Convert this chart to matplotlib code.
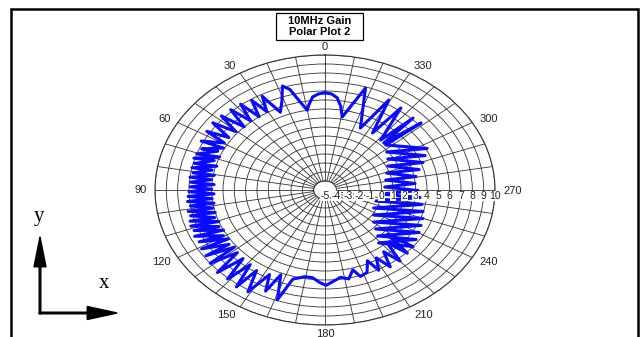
import numpy as np
import matplotlib.pyplot as plt
from matplotlib.patches import Rectangle

plt.rcParams['font.family'] = ['Liberation Sans', 'DejaVu Sans']

# gain trace: angle in degrees (0 at top, counter-clockwise), gain in dB
angle_deg = [0, 3, 6, 8.5, 10, 13, 15.5, 18, 21, 24.5, 28, 30.5, 33, 35.5, 38, 40.5, 43, 45.5, 48, 50.5, 53, 55.5,
             58, 59.5,
             63.5, 62.5, 67.2, 65.5, 70.5, 68.5, 73.0, 71.5, 75.6, 74.5, 78.1, 77.5, 80.7, 80.5, 83.2, 83.5,
             85.8, 86.5, 88.3, 89.5, 90.9, 92.5, 93.4, 95.5, 96.0, 98.5, 98.5, 101.5, 101.1, 104.5, 103.6, 107.5,
             106.2, 110.5, 108.7, 113.5, 111.3, 116.5, 114.1, 119.5, 117.4, 122.5, 121.0, 125.5, 124.8, 128.5,
             128.8, 132,
             134, 136.5, 139, 141.5, 144, 146, 149, 152.5, 155, 157.5, 161, 164, 166, 169.5, 173.5, 177.5, 180.5,
             183, 188, 192, 195.5, 198, 202, 205.5, 208, 211, 214, 217, 220, 223, 226, 228.5, 231,
             218.8, 235.6, 222.3, 240.4, 225.85, 245.1, 230.3, 249.9, 237.0, 254.6, 245.0, 259.4, 254.7, 264.3,
             264.8, 269.6, 273.6, 275.2, 281.7, 280.6, 289.1, 285.3, 295.7, 289.4, 301.9, 293.4, 307.8, 297.1,
             313.0, 311.3, 315.2, 315.8, 318.5, 323.7, 326.5, 330.6, 335.6, 342.5, 349.4,
             351.5, 354, 357, 360]
gain_db = [5.8, 5.7, 5.4, 4.6, 4.0, 5.2, 6.6, 7.15, 5.6, 4.5, 6.8, 5.1, 6.9, 5.0, 7.1, 5.1, 7.2, 5.0, 7.3, 5.2, 7.4, 5.3,
           7.3, 5.3,
           7.2, 5.1, 6.8, 5.4, 7.0, 5.0, 7.1, 5.3, 6.9, 4.9, 7.0, 5.2, 6.8, 4.9, 7.0, 5.1,
           6.9, 4.8, 6.9, 5.0, 7.0, 4.8, 7.1, 5.0, 7.2, 4.9, 7.0, 5.1, 7.3, 5.0, 7.2, 5.2,
           7.4, 5.0, 7.5, 5.2, 7.4, 5.0, 7.6, 5.3, 7.5, 5.1, 7.7, 5.4, 7.8, 5.2,
           8.0, 5.4,
           8.2, 5.5, 8.1, 5.6, 8.3, 5.8, 8.2, 5.6, 7.4, 5.2, 7.9, 5.3, 5.1, 4.8, 4.8, 5.3, 5.6,
           5.3, 4.8, 5.1, 4.2, 5.1, 4.9, 3.7, 5.1, 3.8, 5.3, 3.6, 5.3, 3.0, 5.1, 2.4, 5.0,
           2.55, 4.74, 1.90, 4.55, 1.22, 4.35, 0.57, 4.22, 0.11, 3.98, -0.27, 3.72, -0.37, 3.43,
           -0.07, 3.21, 0.28, 2.98, 0.47, 3.17, 0.76, 3.61, 1.14, 4.18, 1.52, 4.63, 1.89, 5.13,
           2.33, 6.29, 2.35, 6.15, 2.41, 6.31, 2.60, 6.47, 2.56, 6.88, 3.25,
           4.4, 5.3, 5.7, 5.8]

r_min, r_max = -5, 10
ring_values = list(range(-4, 11))
radial_labels = [str(v) for v in range(-5, 11)]
angle_ticks = list(range(0, 360, 10))
angle_labels = list(range(0, 360, 30))

W, H = 644, 337
fig = plt.figure(figsize=(W / 100, H / 100), dpi=100)

# elliptical polar plot
ax = fig.add_axes([155 / W, 12 / H, 340 / W, 270 / H], projection='polar')
ax.set_aspect('auto')
ax.set_theta_zero_location('N')
ax.set_theta_direction(1)
ax.set_ylim(r_min, r_max)
ax.set_yticks(ring_values)
ax.set_yticklabels([])
ax.set_xticks(np.deg2rad(angle_ticks))
ax.set_xticklabels([])
ax.tick_params(length=0)
ax.grid(True, color='#333333', lw=0.6)
ax.spines['polar'].set_color('#333333')
ax.spines['polar'].set_linewidth(0.8)

# white hole in the middle
t = np.linspace(0, 2 * np.pi, 200)
ax.fill_between(t, r_min, -4, color='white', lw=0, zorder=1.6)
ax.plot(t, np.full_like(t, -4), color='#333333', lw=0.6, zorder=1.7)

ax.plot(np.deg2rad(angle_deg), gain_db, color='#0a0aff', lw=2.2, zorder=2)

px = 0.72  # points per pixel
for a in angle_labels:
    th = np.deg2rad(a)
    s, c = np.sin(th), np.cos(th)
    ha = 'center' if abs(s) < 0.01 else ('right' if s > 0 else 'left')
    ax.annotate(str(a), xy=(th, r_max), xytext=(-s * 8 * px, (c * 8.5 - 0.5) * px),
                textcoords='offset points', ha=ha, va='center', fontsize=8,
                color='#222222', annotation_clip=False)

for v, lab in zip(range(-5, 11), radial_labels):
    ax.annotate(lab, xy=(np.deg2rad(270), v), xytext=(0, -6 * px), textcoords='offset points',
                ha='center', va='center', fontsize=7.5, color='#222222', zorder=4,
                bbox=dict(facecolor='white', edgecolor='none', pad=0.3))

# overlay in pixel coordinates: frame, title box, axes arrows
ov = fig.add_axes([0, 0, 1, 1], zorder=5)
ov.set_xlim(0, W)
ov.set_ylim(H, 0)
ov.axis('off')
ov.patch.set_alpha(0)

ov.plot([11, 11, 638, 638], [H + 5, 9, 9, H + 5], color='black', lw=1.8, solid_joinstyle='miter')

ov.add_patch(Rectangle((276, 13), 87, 27, facecolor='white', edgecolor='black', lw=0.9))
ov.text(319.5, 26.5, "10MHz Gain\nPolar Plot 2", ha='center', va='center', fontsize=8,
        fontweight='bold', linespacing=1.15)

ov.arrow(40, 313.8, 0, -77, width=1.6, head_width=12, head_length=30,
         length_includes_head=True, color='black')
ov.arrow(39.2, 313, 78, 0, width=1.6, head_width=13, head_length=30,
         length_includes_head=True, color='black')
ov.text(39, 216, 'y', fontsize=15, family='Liberation Serif', ha='center', va='center')
ov.text(104, 283, 'x', fontsize=15, family='Liberation Serif', ha='center', va='center')

fig.savefig('out.png', dpi=100)
